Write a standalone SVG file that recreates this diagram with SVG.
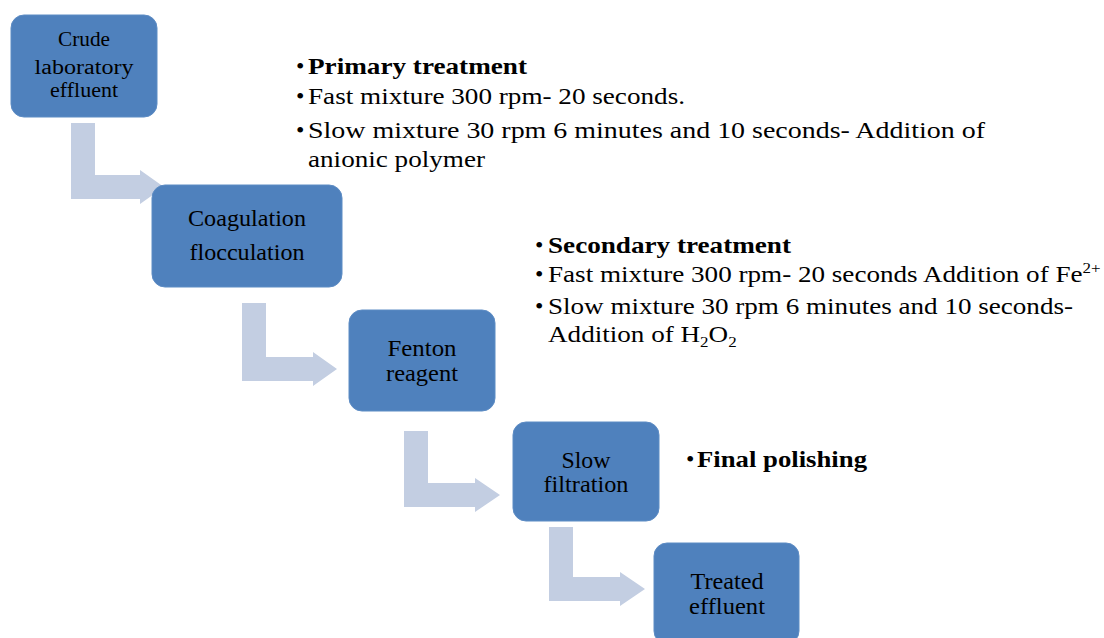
<svg xmlns="http://www.w3.org/2000/svg" width="1104" height="638" viewBox="0 0 1104 638">
<style>
.box{fill:#4f81bd;stroke:#5d8cc4;stroke-width:1}
.arr{fill:#c3cee2}
.bl{font-family:"Liberation Serif","Times New Roman",serif;font-size:23px;fill:#000;text-anchor:middle}
.t{font-family:"Liberation Serif","Times New Roman",serif;font-size:24px;fill:#000}
.b{font-weight:bold}
</style>
<rect width="1104" height="638" fill="#ffffff"/>
<g id="connectors">
<path class="arr" d="M71,123 H95 V175 H140 V170 L164,187 L140,204 V199 H71 Z"/>
<path class="arr" d="M242,303 H266 V357 H313 V352 L337,369 L313,386 V381 H242 Z"/>
<path class="arr" d="M404,431 H428 V483 H475 V478 L500,495 L475,512 V507 H404 Z"/>
<path class="arr" d="M549,527 H573 V577 H620 V572 L645,589 L620,606 V601 H549 Z"/>
</g>
<g id="node-crude">
<rect class="box" x="11" y="15" width="146" height="102" rx="13"/>
<text class="bl" x="84" y="46" style="font-size:20px" textLength="52" lengthAdjust="spacingAndGlyphs">Crude</text>
<text class="bl" x="84" y="74" style="font-size:20px" textLength="99" lengthAdjust="spacingAndGlyphs">laboratory</text>
<text class="bl" x="84" y="97" style="font-size:20px" textLength="68" lengthAdjust="spacingAndGlyphs">effluent</text>
</g>
<g id="node-coagulation">
<rect class="box" x="152" y="185" width="190" height="102" rx="13"/>
<text class="bl" x="247" y="226" textLength="118" lengthAdjust="spacingAndGlyphs">Coagulation</text>
<text class="bl" x="247" y="260" textLength="115" lengthAdjust="spacingAndGlyphs">flocculation</text>
</g>
<g id="node-fenton">
<rect class="box" x="349" y="310" width="146" height="101" rx="13"/>
<text class="bl" x="422" y="356" textLength="69" lengthAdjust="spacingAndGlyphs">Fenton</text>
<text class="bl" x="422" y="381" textLength="72" lengthAdjust="spacingAndGlyphs">reagent</text>
</g>
<g id="node-filtration">
<rect class="box" x="513" y="422" width="146" height="99" rx="13"/>
<text class="bl" x="586" y="468" textLength="49" lengthAdjust="spacingAndGlyphs">Slow</text>
<text class="bl" x="586" y="492" textLength="85" lengthAdjust="spacingAndGlyphs">filtration</text>
</g>
<g id="node-treated">
<rect class="box" x="654" y="543" width="145" height="101" rx="13"/>
<text class="bl" x="727" y="589" textLength="73" lengthAdjust="spacingAndGlyphs">Treated</text>
<text class="bl" x="727" y="614" textLength="76" lengthAdjust="spacingAndGlyphs">effluent</text>
</g>
<g id="primary-notes">
<text class="t" x="296" y="74">•</text>
<text class="t b" x="308" y="74" textLength="219" lengthAdjust="spacingAndGlyphs">Primary treatment</text>
<text class="t" x="296" y="104">•</text>
<text class="t" x="308" y="104" textLength="377" lengthAdjust="spacingAndGlyphs">Fast mixture 300 rpm- 20 seconds.</text>
<text class="t" x="296" y="138">•</text>
<text class="t" x="308" y="138" textLength="677" lengthAdjust="spacingAndGlyphs">Slow mixture 30 rpm 6 minutes and 10 seconds- Addition of</text>
<text class="t" x="308" y="167" textLength="177" lengthAdjust="spacingAndGlyphs">anionic polymer</text>
</g>
<g id="secondary-notes">
<text class="t" x="535" y="253">•</text>
<text class="t b" x="548" y="253" textLength="243" lengthAdjust="spacingAndGlyphs">Secondary treatment</text>
<text class="t" x="535" y="282">•</text>
<g transform="translate(548,282) scale(1.13,1)">
<text class="t" x="0" y="0">Fast mixture 300 rpm- 20 seconds Addition of Fe<tspan style="font-size:15px" dy="-9">2+</tspan></text>
</g>
<text class="t" x="535" y="314">•</text>
<text class="t" x="548" y="314" textLength="525" lengthAdjust="spacingAndGlyphs">Slow mixture 30 rpm 6 minutes and 10 seconds-</text>
<g transform="translate(548,342) scale(1.13,1)">
<text class="t" x="0" y="0">Addition of H<tspan style="font-size:15px" dy="5">2</tspan><tspan dy="-5">O</tspan><tspan style="font-size:15px" dy="5">2</tspan></text>
</g>
</g>
<g id="final-notes">
<text class="t" x="686" y="467">•</text>
<text class="t b" x="697" y="467" textLength="170" lengthAdjust="spacingAndGlyphs">Final polishing</text>
</g>
</svg>
